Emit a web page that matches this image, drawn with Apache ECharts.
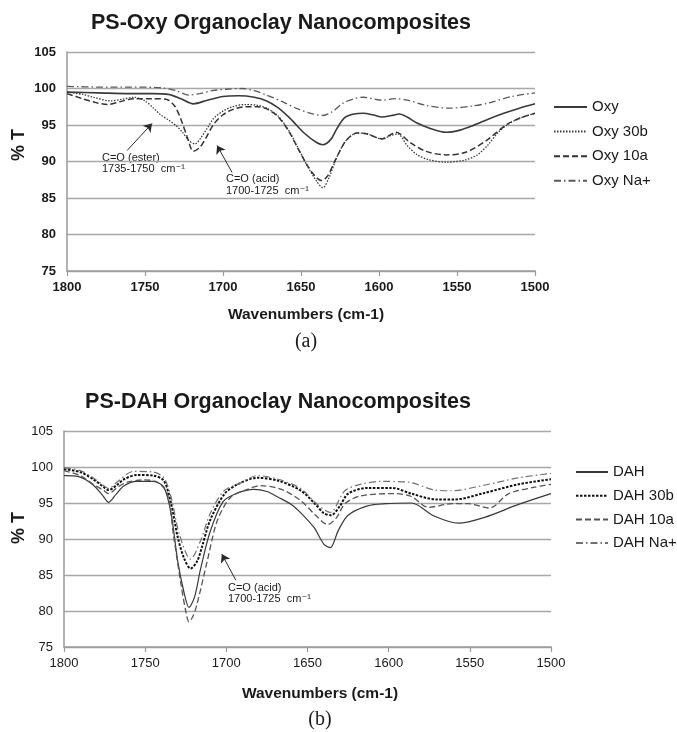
<!DOCTYPE html>
<html>
<head>
<meta charset="utf-8">
<script src="https://cdn.jsdelivr.net/npm/echarts/dist/echarts.min.js"></script>
<style>
html,body{margin:0;padding:0;background:#fff;}
#chart{width:677px;height:732px;}
</style>
</head>
<body>
<div id="chart"></div>
<script>
// ---------- DATA ----------
const xTicks = [1500, 1550, 1600, 1650, 1700, 1750, 1800];
const yTicks = [75, 80, 85, 90, 95, 100, 105];

// (a) PS-Oxy
const oxyNames = ['Oxy', 'Oxy 30b', 'Oxy 10a', 'Oxy Na+'];
const oxyWave = [1800,1780,1760,1745,1735,1727,1719,1710,1700,1690,1680,1672,1665,1657,1648,1640,1636,1631,1627,1622,1616,1610,1604,1598,1592,1587,1582,1576,1568,1557,1548,1540,1530,1520,1510,1500];
const oxyT    = [99.5,99.4,99.3,99.3,99.2,98.6,97.9,98.4,98.9,99.0,98.8,98.3,97.4,95.9,93.9,92.6,92.3,93.0,94.5,96.0,96.5,96.6,96.4,96.1,96.3,96.5,96.1,95.3,94.6,94.0,94.3,94.9,95.8,96.6,97.3,97.9];

const oxy30bWave = [1800,1790,1783,1772,1765,1757,1750,1745,1740,1735,1730,1726,1722,1718,1714,1710,1706,1700,1694,1686,1678,1672,1665,1658,1652,1646,1640,1636,1632,1627,1621,1614,1608,1598,1592,1588,1582,1576,1569,1557,1545,1537,1530,1524,1518,1510,1500];
const oxy30bT    = [99.5,99.2,98.8,98.3,98.5,98.8,98.3,97.4,96.4,95.7,94.9,94.0,92.9,92.4,93.3,94.6,95.9,96.9,97.5,97.8,97.7,97.3,96.3,94.3,91.9,89.4,87.3,86.4,87.8,90.6,92.9,93.9,93.8,93.1,93.6,93.8,92.2,91.0,90.3,89.9,90.2,90.9,92.3,93.9,95.0,95.9,96.6];

const oxy10aWave = [1800,1790,1782,1774,1766,1757,1745,1736,1731,1727,1723,1719,1715,1711,1706,1700,1694,1686,1678,1672,1665,1658,1652,1646,1641,1637,1633,1628,1621,1614,1608,1598,1589,1580,1570,1557,1544,1531,1518,1509,1500];
const oxy10aT    = [99.3,98.6,98.1,97.8,98.2,98.6,98.6,98.5,97.6,95.8,93.4,91.4,91.9,93.2,95.1,96.4,97.1,97.5,97.5,97.2,96.2,94.2,91.8,89.5,88.0,87.4,88.0,90.2,92.9,93.9,93.8,93.1,94.0,92.6,91.4,90.9,91.3,92.9,95.1,96.0,96.6];

const oxyNaWave = [1800,1780,1760,1740,1730,1722,1715,1707,1698,1688,1680,1672,1662,1652,1642,1636,1630,1623,1616,1610,1604,1598,1590,1582,1570,1555,1540,1530,1515,1500];
const oxyNaT    = [100.3,100.2,100.2,100.1,99.7,99.1,99.3,99.7,99.9,100.0,99.7,99.1,98.2,97.2,96.5,96.3,96.8,98.0,98.6,98.8,98.6,98.4,98.6,98.4,97.7,97.3,97.6,98.0,98.9,99.4];

// (b) PS-DAH
const dahNames = ['DAH', 'DAH 30b', 'DAH 10a', 'DAH Na+'];
const dahWave = [1800,1790,1782,1776,1772.5,1768,1763,1755,1745,1738.5,1734,1730,1726,1723,1719.5,1716,1710,1702,1693,1683,1675,1668,1660,1654,1646,1640,1636,1631,1625,1613,1602,1586,1572,1557,1541,1520,1500];
const dahT    = [98.8,98.6,97.5,96.0,95.1,96.2,97.4,98.0,98.0,97.2,93.5,87.0,82.5,80.5,82.0,85.7,91.0,95.2,96.4,96.9,96.6,95.8,94.8,93.6,91.6,89.3,88.8,91.2,93.3,94.6,94.9,95.0,93.2,92.2,93.0,94.8,96.3];

const dah30bWave = [1800,1790,1782,1776,1772.5,1768,1763,1755,1745,1738.5,1734,1730,1726,1722,1718,1715,1710,1701,1693,1681,1668,1654,1645,1640,1635.5,1630,1625,1613,1598,1586,1571,1559,1541,1520,1500];
const dah30bT    = [99.7,99.3,98.3,97.3,96.8,97.4,98.3,98.9,98.8,98.1,94.9,90.3,87.3,85.9,86.9,88.9,92.6,96.3,97.6,98.5,98.1,96.7,94.8,93.6,93.3,94.6,96.3,97.1,97.1,96.3,95.5,95.5,96.4,97.6,98.3];

const dah10aWave = [1800,1790,1782,1776,1772.5,1767,1761,1751,1742.6,1736.4,1732.4,1728,1725,1723,1720.5,1718,1711.7,1705.5,1697.3,1687,1679,1666,1654,1645,1637.5,1632,1627,1617,1596,1586,1575.5,1561,1551,1538,1526,1510,1500];
const dah10aT    = [99.5,98.8,97.6,96.8,96.3,97.2,97.9,98.2,97.9,96.3,90.3,83.8,80.0,78.5,79.3,81.0,87.0,92.6,95.8,96.9,97.4,96.9,95.3,93.3,92.0,93.0,94.9,96.0,96.3,95.9,94.4,94.9,94.9,94.3,96.3,97.2,97.6];

const dahNaWave = [1800,1790,1782,1776,1772.5,1767,1757,1745,1738.5,1734,1729,1722,1715.8,1710,1701.4,1691,1681,1668,1654,1645,1636,1627,1617,1604.5,1588,1571.5,1561,1540.5,1520,1500];
const dahNaT    = [99.9,99.5,98.5,97.5,97.0,98.0,99.4,99.3,98.5,95.8,90.7,87.2,89.8,93.5,96.7,97.8,98.8,98.3,97.0,95.0,93.7,96.7,97.6,98.0,97.9,96.8,96.7,97.5,98.5,99.1];

// annotation arrows (data coordinates: [wavenumber, %T])
const arrowsA = [ [[1761.5, 91.5], [1745.5, 95.2]], [[1694.2, 88.5], [1703.8, 92.2]] ];
const arrowsB = [ [[1694.2, 84.3], [1702.8, 87.9]] ];

// ---------- CHART ----------
const zip = (w, t) => w.map((v, i) => [v, t[i]]);
const SANS = '"Liberation Sans", Arial, "DejaVu Sans", sans-serif';
const chart = echarts.init(document.getElementById('chart'), null, {renderer: 'canvas'});

function makeX(idx, bold) {
  return {
    type: 'value', gridIndex: idx, min: xTicks[0], max: xTicks[xTicks.length - 1], interval: 50, inverse: true,
    axisLine: {show: true, lineStyle: {color: '#9a9a9a', width: 1.5}},
    axisTick: {show: true, length: 5, lineStyle: {color: '#9a9a9a', width: 1.2}},
    axisLabel: {fontSize: 13, fontWeight: bold ? 'bold' : 'normal', color: '#1a1a1a', margin: 10, fontFamily: SANS,
                formatter: v => String(v)},
    splitLine: {show: false}
  };
}
function makeY(idx, bold) {
  return {
    type: 'value', gridIndex: idx, min: yTicks[0], max: yTicks[yTicks.length - 1], interval: 5,
    axisLine: {show: true, lineStyle: {color: '#9a9a9a', width: 1.5}},
    axisTick: {show: false},
    axisLabel: {fontSize: 13, fontWeight: bold ? 'bold' : 'normal', color: '#1a1a1a', margin: 11, fontFamily: SANS,
                formatter: v => String(v)},
    splitLine: {show: true, lineStyle: {color: '#a8a8a8', width: 1.3}}
  };
}
function line(name, idx, w, t, color, width, type, arrows) {
  const s = {
    name, type: 'line', xAxisIndex: idx, yAxisIndex: idx, data: zip(w, t),
    symbol: 'none', smooth: 0.3, silent: true,
    lineStyle: {color, width, type}, itemStyle: {color}
  };
  if (arrows) {
    s.markLine = {
      silent: true, symbol: ['none', 'arrow'], symbolSize: 8,
      lineStyle: {type: 'solid', color: '#2a2a2a', width: 1},
      label: {show: false},
      data: arrows.map(a => [{coord: a[0]}, {coord: a[1]}])
    };
  }
  return s;
}

const txt = (x, y, text, font) => ({
  type: 'text', x, y, silent: true,
  style: {text, font, fill: '#1a1a1a', textAlign: 'left', textVerticalAlign: 'middle', align: 'left', verticalAlign: 'middle'}
});
const ctxt = (x, y, text, font, rot) => ({
  type: 'text', x, y, rotation: rot || 0, silent: true,
  style: {text, font, fill: '#1a1a1a', textAlign: 'center', textVerticalAlign: 'middle', align: 'center', verticalAlign: 'middle'}
});

const annFont = '11px "Liberation Sans", Arial, "DejaVu Sans", sans-serif';
const legendBase = {
  orient: 'vertical', itemHeight: 14, selectedMode: false,
  itemStyle: {color: 'rgba(0,0,0,0)', borderColor: 'rgba(0,0,0,0)', borderWidth: 0, opacity: 0},
  textStyle: {fontSize: 15, color: '#1a1a1a', fontFamily: SANS, lineHeight: 16}
};

chart.setOption({
  animation: false,
  backgroundColor: '#ffffff',
  grid: [
    {left: 67, top: 52, width: 468, height: 219},
    {left: 64, top: 431, width: 487, height: 216}
  ],
  xAxis: [makeX(0, true), makeX(1, false)],
  yAxis: [makeY(0, true), makeY(1, false)],
  legend: [
    Object.assign({}, legendBase, {data: oxyNames, left: 548, top: 94, itemWidth: 33, itemGap: 8.6}),
    Object.assign({}, legendBase, {data: dahNames, left: 570, top: 459, itemWidth: 32, itemGap: 7.7})
  ],
  series: [
    line(oxyNames[0], 0, oxyWave, oxyT, '#3a3a3a', 1.6, 'solid', arrowsA),
    line(oxyNames[1], 0, oxy30bWave, oxy30bT, '#3a3a3a', 1.3, [1.5, 1.5]),
    line(oxyNames[2], 0, oxy10aWave, oxy10aT, '#333333', 1.5, [6, 3]),
    line(oxyNames[3], 0, oxyNaWave, oxyNaT, '#5a5a5a', 1.3, [7, 3, 1.5, 3]),
    line(dahNames[0], 1, dahWave, dahT, '#3a3a3a', 1.2, 'solid', arrowsB),
    line(dahNames[1], 1, dah30bWave, dah30bT, '#111111', 2, [2.5, 1.5]),
    line(dahNames[2], 1, dah10aWave, dah10aT, '#555555', 1.3, [6, 3]),
    line(dahNames[3], 1, dahNaWave, dahNaT, '#707070', 1.2, [7, 3, 1.5, 3])
  ],
  graphic: [
    ctxt(281, 23, 'PS-Oxy Organoclay Nanocomposites', 'bold 21.5px ' + SANS),
    ctxt(19, 145, '% T', 'bold 18px ' + SANS, Math.PI / 2),
    ctxt(306, 315, 'Wavenumbers (cm-1)', 'bold 15.5px ' + SANS),
    ctxt(306, 342, '(a)', '20px "Liberation Serif", "DejaVu Serif", serif'),
    txt(102, 157.5, 'C=O (ester)', annFont),
    txt(102, 169, '1735-1750  cm\u207B\u00B9', annFont),
    txt(226, 179, 'C=O (acid)', annFont),
    txt(226, 190.5, '1700-1725  cm\u207B\u00B9', annFont),

    ctxt(278, 402, 'PS-DAH Organoclay Nanocomposites', 'bold 21.5px ' + SANS),
    ctxt(19, 528, '% T', 'bold 18px ' + SANS, Math.PI / 2),
    ctxt(320, 694, 'Wavenumbers (cm-1)', 'bold 15.5px ' + SANS),
    ctxt(320, 720, '(b)', '20px "Liberation Serif", "DejaVu Serif", serif'),
    txt(228, 587.5, 'C=O (acid)', annFont),
    txt(228, 599, '1700-1725  cm\u207B\u00B9', annFont)
  ]
});
</script>
</body>
</html>
